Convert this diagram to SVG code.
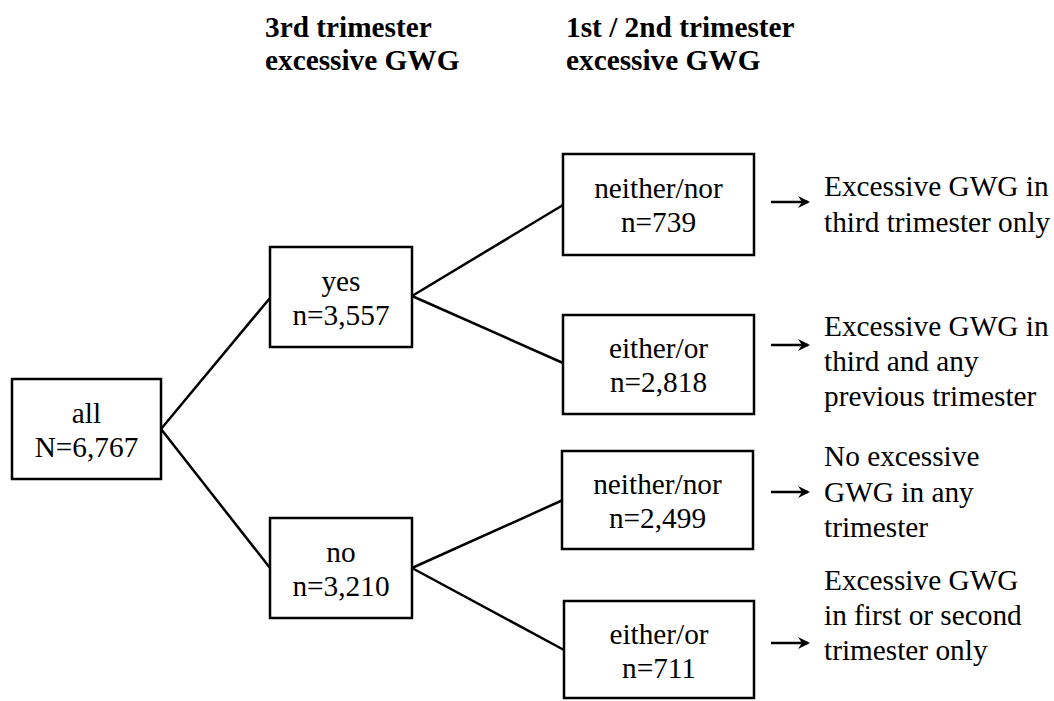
<svg xmlns="http://www.w3.org/2000/svg" width="1054" height="701" viewBox="0 0 1054 701">
<style>
.box{fill:#fff;stroke:#000;stroke-width:2.5}
.ln{stroke:#000;stroke-width:2.5;fill:none}
</style>
<defs>
<marker id="ah" markerWidth="12" markerHeight="12" refX="10" refY="6" orient="auto" markerUnits="userSpaceOnUse">
<path d="M0,0 L12,6 L0,12 L4,6 Z" fill="#000"/>
</marker>
</defs>
<rect width="1054" height="701" fill="#fff"/>
<g font-family="Liberation Serif, serif" font-size="29.3" fill="#000">
<g id="headers" font-weight="bold">
<text x="265" y="37">3rd trimester</text>
<text x="265" y="70">excessive GWG</text>
<text x="566" y="37">1st / 2nd trimester</text>
<text x="566" y="70">excessive GWG</text>
</g>
<g id="connectors">
<line class="ln" x1="161" y1="429" x2="270" y2="298"/>
<line class="ln" x1="161" y1="429" x2="270" y2="568"/>
<line class="ln" x1="412" y1="296" x2="563" y2="205"/>
<line class="ln" x1="412" y1="296" x2="563" y2="363"/>
<line class="ln" x1="412" y1="568" x2="563" y2="500"/>
<line class="ln" x1="412" y1="568" x2="564" y2="650"/>
<line class="ln" x1="771" y1="202" x2="808" y2="202" marker-end="url(#ah)"/>
<line class="ln" x1="771" y1="345" x2="808" y2="345" marker-end="url(#ah)"/>
<line class="ln" x1="771" y1="492" x2="808" y2="492" marker-end="url(#ah)"/>
<line class="ln" x1="771" y1="643" x2="808" y2="643" marker-end="url(#ah)"/>
</g>
<g id="n-all" text-anchor="middle">
<rect class="box" x="12" y="379" width="149" height="100"/>
<text x="86.5" y="423">all</text>
<text x="86.5" y="457">N=6,767</text>
</g>
<g id="n-yes" text-anchor="middle">
<rect class="box" x="270" y="247" width="142" height="100"/>
<text x="341" y="291">yes</text>
<text x="341" y="325">n=3,557</text>
</g>
<g id="n-no" text-anchor="middle">
<rect class="box" x="270" y="518" width="142" height="100"/>
<text x="341" y="562">no</text>
<text x="341" y="596">n=3,210</text>
</g>
<g id="n-yes-neither" text-anchor="middle">
<rect class="box" x="563" y="154" width="191" height="101"/>
<text x="658.5" y="198">neither/nor</text>
<text x="658.5" y="232">n=739</text>
</g>
<g id="n-yes-either" text-anchor="middle">
<rect class="box" x="563" y="315" width="191" height="99"/>
<text x="658.5" y="358">either/or</text>
<text x="658.5" y="392">n=2,818</text>
</g>
<g id="n-no-neither" text-anchor="middle">
<rect class="box" x="562" y="451" width="191" height="98"/>
<text x="657.5" y="494">neither/nor</text>
<text x="657.5" y="528">n=2,499</text>
</g>
<g id="n-no-either" text-anchor="middle">
<rect class="box" x="564" y="601" width="190" height="97"/>
<text x="659" y="644">either/or</text>
<text x="659" y="678">n=711</text>
</g>
<g id="out1">
<text x="824" y="196">Excessive GWG in</text>
<text x="824" y="232">third trimester only</text>
</g>
<g id="out2">
<text x="824" y="336">Excessive GWG in</text>
<text x="824" y="371">third and any</text>
<text x="824" y="406">previous trimester</text>
</g>
<g id="out3">
<text x="824" y="466">No excessive</text>
<text x="824" y="502">GWG in any</text>
<text x="824" y="537">trimester</text>
</g>
<g id="out4">
<text x="824" y="590">Excessive GWG</text>
<text x="824" y="625">in first or second</text>
<text x="824" y="660">trimester only</text>
</g>
</g>
</svg>
